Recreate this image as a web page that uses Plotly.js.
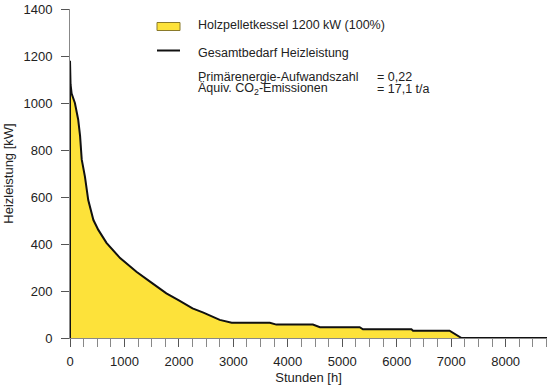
<!DOCTYPE html>
<html>
<head>
<meta charset="utf-8">
<script src="https://cdn.plot.ly/plotly-3.0.1.min.js"></script>
<style>html,body{margin:0;padding:0;background:#fff;}#chart{width:550px;height:389px;}</style>
</head>
<body>
<div id="chart"></div>
<script>
// Jahresdauerlinie: Stunden [h] vs Heizleistung [kW]
const hours = [0, 0, 10, 30, 60, 90, 150, 185, 215, 275, 335, 430, 520, 670, 920, 1220, 1470, 1770, 2000, 2250, 2450, 2750, 2970, 3670, 3790, 4460, 4590, 5320, 5380, 6270, 6300, 6970, 7190, 8760];
const heatLoad = [0, 1180, 1080, 1040, 1020, 1000, 930, 860, 760, 686, 587, 502, 460, 405, 340, 282, 240, 190, 160, 126, 108, 77, 65, 65, 57, 57, 46, 46, 37, 37, 31, 31, 0, 0];
const yTicks = [0, 200, 400, 600, 800, 1000, 1200, 1400];
const xTicks = [0, 1000, 2000, 3000, 4000, 5000, 6000, 7000, 8000];
const legendFill = "Holzpelletkessel 1200 kW (100%)";
const legendLine = "Gesamtbedarf Heizleistung";
const infoLabels = ["Primärenergie-Aufwandszahl", "Äquiv. CO<sub>2</sub>-Emissionen"];
const infoValues = ["= 0,22", "= 17,1 t/a"];

const font = {family: "Liberation Sans, Arial, sans-serif", size: 13, color: "#222"};
const legFont = {family: "Liberation Sans, Arial, sans-serif", size: 12.5, color: "#222"};

const traces = [
  {x: hours, y: heatLoad, type: "scatter", mode: "lines", fill: "tozeroy",
   fillcolor: "#FDE23A", line: {color: "rgba(0,0,0,0)", width: 0}, hoverinfo: "skip", showlegend: false},
  {x: hours, y: heatLoad, type: "scatter", mode: "lines",
   line: {color: "#111", width: 2}, showlegend: false}
];

function pxX(p){ return (p - 70) / 477; }
function pxY(p){ return (338 - p) / 329; }
const ann = [];
ann.push({xref:"paper", yref:"paper", x:pxX(196), y:pxY(25), xanchor:"left", yanchor:"middle", text: legendFill, showarrow:false, font: legFont});
ann.push({xref:"paper", yref:"paper", x:pxX(196), y:pxY(53), xanchor:"left", yanchor:"middle", text: legendLine, showarrow:false, font: legFont});
ann.push({xref:"paper", yref:"paper", x:pxX(196), y:pxY(77), xanchor:"left", yanchor:"middle", text: infoLabels[0], showarrow:false, font: legFont});
ann.push({xref:"paper", yref:"paper", x:pxX(196), y:pxY(89.5), xanchor:"left", yanchor:"middle", text: infoLabels[1], showarrow:false, font: legFont});
ann.push({xref:"paper", yref:"paper", x:pxX(375), y:pxY(77), xanchor:"left", yanchor:"middle", text: infoValues[0], showarrow:false, font: legFont});
ann.push({xref:"paper", yref:"paper", x:pxX(375), y:pxY(89.5), xanchor:"left", yanchor:"middle", text: infoValues[1], showarrow:false, font: legFont});

const shapes = [
  {type:"rect", xref:"paper", yref:"paper", x0:pxX(157), x1:pxX(180), y0:pxY(30.5), y1:pxY(22.5),
   fillcolor:"#FDE23A", line:{color:"#8a7a2a", width:1}},
  {type:"line", xref:"paper", yref:"paper", x0:pxX(157), x1:pxX(180), y0:pxY(50.5), y1:pxY(50.5),
   line:{color:"#111", width:2}}
];

const layout = {
  width: 550, height: 389,
  margin: {l: 70, r: 3, t: 9, b: 51},
  paper_bgcolor: "#fff", plot_bgcolor: "#fff",
  font: font,
  showlegend: false,
  xaxis: {
    range: [0, 8760], tickvals: xTicks, ticktext: xTicks.map(String),
    ticks: "outside", ticklen: 8, tickcolor: "#555", tickwidth: 1,
    minor: {dtick: 250, tick0: 0, ticks: "outside", ticklen: 8, tickcolor: "#888", tickwidth: 1},
    showline: true, linecolor: "#888", linewidth: 1,
    showgrid: false, zeroline: false, ticklabelstandoff: 3,
    title: {text: "Stunden [h]", font: font, standoff: 5}
  },
  yaxis: {
    range: [0, 1400], tickvals: yTicks, ticktext: yTicks.map(String),
    ticks: "outside", ticklen: 8, tickcolor: "#555", tickwidth: 1,
    showline: true, linecolor: "#888", linewidth: 1,
    showgrid: false, zeroline: false, ticklabelstandoff: 6,
    title: {text: "Heizleistung [kW]", font: font, standoff: 6}
  },
  annotations: ann,
  shapes: shapes
};

Plotly.newPlot("chart", traces, layout, {staticPlot: true, displayModeBar: false});
</script>
</body>
</html>
